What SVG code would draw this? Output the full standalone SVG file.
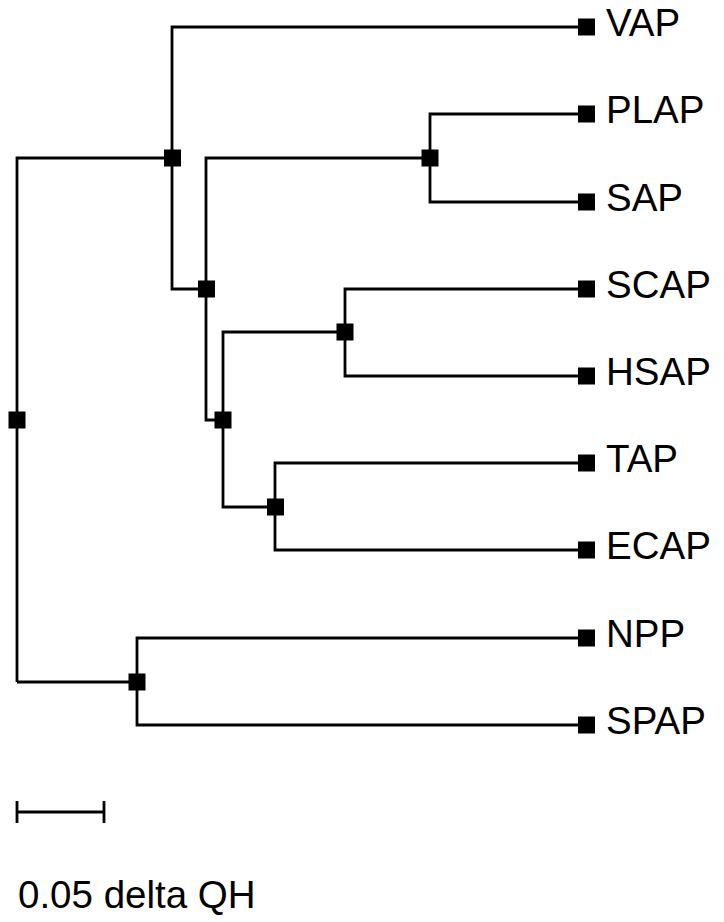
<svg xmlns="http://www.w3.org/2000/svg" width="724" height="922" viewBox="0 0 724 922">
<style>
.e{fill:none;stroke:#000;stroke-width:2.8}
.n{fill:#000}
.t{font-family:"Liberation Sans",Arial,sans-serif;font-size:38.5px;fill:#000}
</style>
<rect width="724" height="922" fill="#fff"/>
<g id="connectors">
<path class="e" d="M17,682 V158 H172"/>
<path class="e" d="M586,27 H172 V289 H206"/>
<path class="e" d="M430,158 H206 V420 H223"/>
<path class="e" d="M586,114 H430 V202 H586"/>
<path class="e" d="M345,332 H223 V507 H275"/>
<path class="e" d="M586,289 H345 V376 H586"/>
<path class="e" d="M586,463 H275 V550 H586"/>
<path class="e" d="M17,682 H137"/>
<path class="e" d="M586,638 H137 V725 H586"/>
</g>
<g id="n_root"><rect class="n" x="8.5" y="411.5" width="17" height="17"/></g>
<g id="n_a"><rect class="n" x="164" y="149.5" width="17" height="17"/></g>
<g id="n_b"><rect class="n" x="198" y="280.5" width="17" height="17"/></g>
<g id="n_c"><rect class="n" x="421.5" y="149.5" width="17" height="17"/></g>
<g id="n_d"><rect class="n" x="214.5" y="411.5" width="17" height="17"/></g>
<g id="n_e"><rect class="n" x="336.5" y="323.5" width="17" height="17"/></g>
<g id="n_f"><rect class="n" x="267" y="498.5" width="17" height="17"/></g>
<g id="n_g"><rect class="n" x="128.5" y="673.5" width="17" height="17"/></g>
<g id="VAP"><rect class="n" x="578" y="18.5" width="17" height="17"/><text class="t" x="606" y="36">VAP</text></g>
<g id="PLAP"><rect class="n" x="578" y="105.5" width="17" height="17"/><text class="t" x="606" y="123">PLAP</text></g>
<g id="SAP"><rect class="n" x="578" y="193.5" width="17" height="17"/><text class="t" x="606" y="211">SAP</text></g>
<g id="SCAP"><rect class="n" x="578" y="280.5" width="17" height="17"/><text class="t" x="606" y="298">SCAP</text></g>
<g id="HSAP"><rect class="n" x="578" y="367.5" width="17" height="17"/><text class="t" x="606" y="385">HSAP</text></g>
<g id="TAP"><rect class="n" x="578" y="454.5" width="17" height="17"/><text class="t" x="606" y="472">TAP</text></g>
<g id="ECAP"><rect class="n" x="578" y="541.5" width="17" height="17"/><text class="t" x="606" y="559">ECAP</text></g>
<g id="NPP"><rect class="n" x="578" y="629.5" width="17" height="17"/><text class="t" x="606" y="647">NPP</text></g>
<g id="SPAP"><rect class="n" x="578" y="716.5" width="17" height="17"/><text class="t" x="606" y="734">SPAP</text></g>
<g id="scale">
<path class="e" d="M17,812 H104 M17,801 V823 M104,801 V823"/>
<text class="t" x="18" y="908">0.05 delta QH</text>
</g>
</svg>
